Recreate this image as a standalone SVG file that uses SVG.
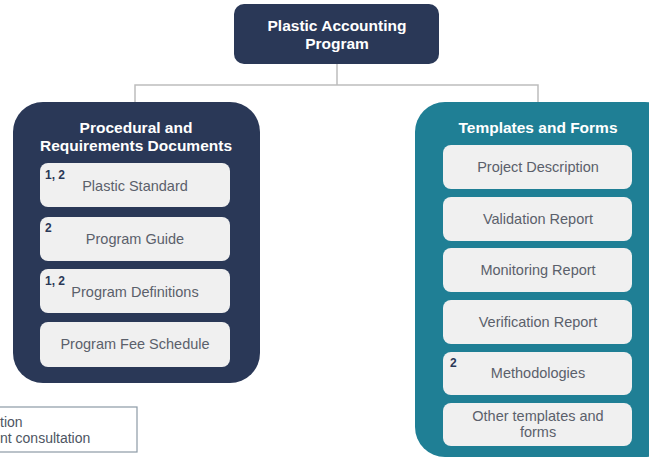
<svg xmlns="http://www.w3.org/2000/svg" width="649" height="459" viewBox="0 0 649 459">
<style>
.navy{fill:#2a3857}
.teal{fill:#1f7f95}
.item{fill:#f0f0f0}
.title{font-family:"Liberation Sans",Arial,sans-serif;font-weight:bold;font-size:15.5px;fill:#ffffff;text-anchor:middle}
.label{font-family:"Liberation Sans",Arial,sans-serif;font-size:14.5px;fill:#5b606b;text-anchor:middle}
.sup{font-family:"Liberation Sans",Arial,sans-serif;font-weight:bold;font-size:12px;fill:#2a3857}
.legend{font-family:"Liberation Sans",Arial,sans-serif;font-size:14px;fill:#4d5562}
.conn{fill:none;stroke:#bdbdbd;stroke-width:1.5}
</style>
<g id="connectors">
<path class="conn" d="M337,64 V85 M135,104 V85 H538 V104"/>
</g>
<g id="root">
<rect class="navy" x="234" y="4" width="205" height="60" rx="10"/>
<text class="title" x="337" y="31">Plastic Accounting</text>
<text class="title" x="337" y="49">Program</text>
</g>
<g id="procedural">
<rect class="navy" x="13" y="102" width="247" height="281" rx="30"/>
<text class="title" x="136" y="133">Procedural and</text>
<text class="title" x="136" y="151">Requirements Documents</text>
</g>
<g id="plastic-standard">
<rect class="item" x="40" y="163" width="190" height="44" rx="8"/>
<text class="label" x="135" y="191">Plastic Standard</text>
<text class="sup" x="45" y="179">1, 2</text>
</g>
<g id="program-guide">
<rect class="item" x="40" y="217" width="190" height="44" rx="8"/>
<text class="label" x="135" y="244">Program Guide</text>
<text class="sup" x="45" y="232">2</text>
</g>
<g id="program-definitions">
<rect class="item" x="40" y="269" width="190" height="44" rx="8"/>
<text class="label" x="135" y="297">Program Definitions</text>
<text class="sup" x="45" y="285">1, 2</text>
</g>
<g id="program-fee">
<rect class="item" x="40" y="322" width="190" height="45" rx="8"/>
<text class="label" x="135" y="349">Program Fee Schedule</text>
</g>
<g id="templates">
<rect class="teal" x="415" y="102" width="260" height="355" rx="30"/>
<text class="title" x="538" y="133">Templates and Forms</text>
</g>
<g id="project-description">
<rect class="item" x="443" y="145" width="189" height="44" rx="8"/>
<text class="label" x="538" y="172">Project Description</text>
</g>
<g id="validation-report">
<rect class="item" x="443" y="197" width="189" height="44" rx="8"/>
<text class="label" x="538" y="224">Validation Report</text>
</g>
<g id="monitoring-report">
<rect class="item" x="443" y="248" width="189" height="44" rx="8"/>
<text class="label" x="538" y="275">Monitoring Report</text>
</g>
<g id="verification-report">
<rect class="item" x="443" y="300" width="189" height="44" rx="8"/>
<text class="label" x="538" y="327">Verification Report</text>
</g>
<g id="methodologies">
<rect class="item" x="443" y="352" width="189" height="43" rx="8"/>
<text class="label" x="538" y="378">Methodologies</text>
<text class="sup" x="450" y="367">2</text>
</g>
<g id="other-templates">
<rect class="item" x="443" y="403" width="189" height="43" rx="8"/>
<text class="label" x="538" y="421">Other templates and</text>
<text class="label" x="538" y="437">forms</text>
</g>
<g id="legend">
<rect x="-10" y="407" width="147" height="45" fill="#ffffff" stroke="#8c9aa6" stroke-width="1.2"/>
<text class="legend" x="0" y="427">tion</text>
<text class="legend" x="0" y="443">nt consultation</text>
</g>
</svg>
